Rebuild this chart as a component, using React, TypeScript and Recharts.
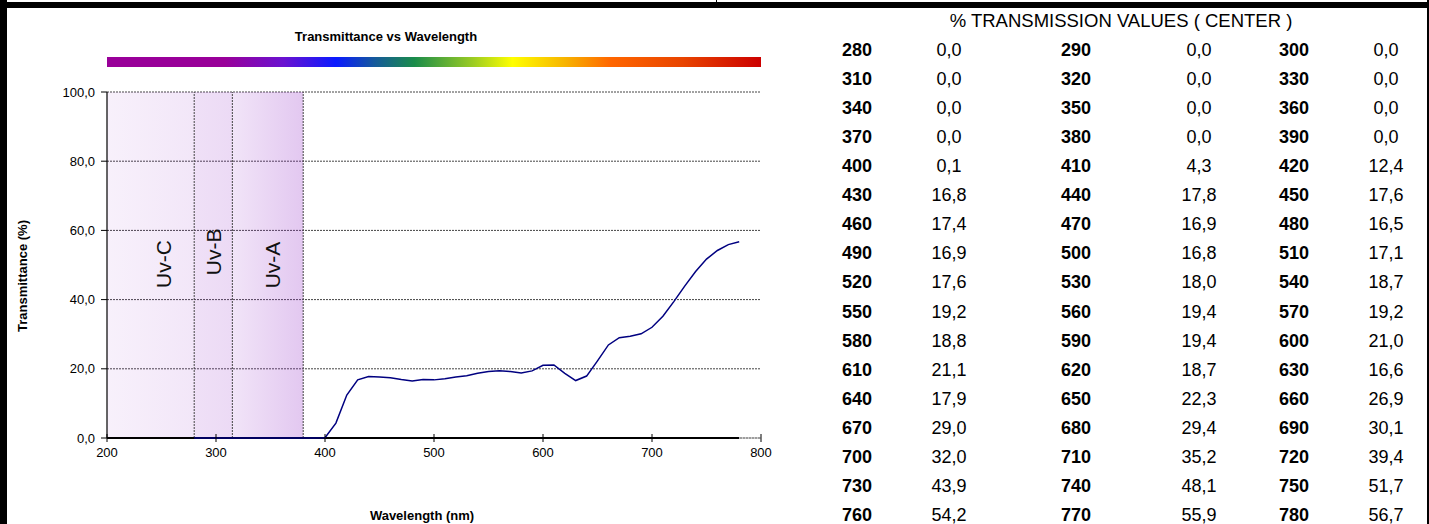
import React from "react";
import {
  LineChart,
  Line,
  XAxis,
  YAxis,
  CartesianGrid,
  ReferenceArea,
  ReferenceLine,
} from "recharts";

const wavelengths = [
  280, 290, 300, 310, 320, 330, 340, 350, 360, 370, 380, 390, 400, 410, 420,
  430, 440, 450, 460, 470, 480, 490, 500, 510, 520, 530, 540, 550, 560, 570,
  580, 590, 600, 610, 620, 630, 640, 650, 660, 670, 680, 690, 700, 710, 720,
  730, 740, 750, 760, 770, 780,
];

const transmission = [
  0.0, 0.0, 0.0, 0.0, 0.0, 0.0, 0.0, 0.0, 0.0, 0.0, 0.0, 0.0, 0.1, 4.3, 12.4,
  16.8, 17.8, 17.6, 17.4, 16.9, 16.5, 16.9, 16.8, 17.1, 17.6, 18.0, 18.7, 19.2,
  19.4, 19.2, 18.8, 19.4, 21.0, 21.1, 18.7, 16.6, 17.9, 22.3, 26.9, 29.0, 29.4,
  30.1, 32.0, 35.2, 39.4, 43.9, 48.1, 51.7, 54.2, 55.9, 56.7,
];

const xTicks = [200, 300, 400, 500, 600, 700, 800];
const yTicks = [0, 20, 40, 60, 80, 100];

const uvBandNames = ["Uv-C", "Uv-B", "Uv-A"];
const uvBandFrom = [200, 280, 315];
const uvBandTo = [280, 315, 380];

const chartTitle = "Transmittance vs Wavelength";
const xTitle = "Wavelength (nm)";
const yTitle = "Transmittance (%)";
const tableTitle = "% TRANSMISSION VALUES ( CENTER )";

// ---- styling (not data) ----
const FONT = "'Liberation Sans', Arial, Helvetica, sans-serif";
const BAND_COLOR = "#9632c8";
const bandOpacity = [
  [0.07, 0.12],
  [0.15, 0.18],
  [0.13, 0.27],
];
const bandLabelPos = [
  { fx: 0.644, fy: 0.497 },
  { fx: 0.5, fy: 0.462 },
  { fx: 0.56, fy: 0.5 },
];
const rainbow =
  "linear-gradient(to right, #990099 0%, #990099 18%, #6a12d0 27%, #0a1aff 35%, #155a9a 41%, #1a8c4a 47%, #9ccc22 56%, #ffff00 62%, #f7b400 70%, #ff6600 77%, #e84400 88%, #cc0000 100%)";

const fmt = (v: number) => v.toFixed(1).replace(".", ",");

const data = wavelengths.map((w, i) => ({ w, t: transmission[i] }));

const XTick = (props: any) => {
  const { x, y, payload } = props;
  return (
    <g>
      <line x1={x} x2={x} y1={y - 4} y2={y + 4} stroke="#000" strokeWidth={1} />
      <text
        x={x}
        y={y + 14}
        textAnchor="middle"
        dominantBaseline="central"
        fontSize={13}
        fontFamily={FONT}
        fill="#000"
      >
        {payload.value}
      </text>
    </g>
  );
};

const makeBandLabel = (name: string, idx: number) => (props: any) => {
  const vb = props.viewBox || {};
  const cx = vb.x + vb.width * bandLabelPos[idx].fx;
  const cy = vb.y + vb.height * bandLabelPos[idx].fy;
  return (
    <text
      x={cx}
      y={cy}
      transform={`rotate(-90 ${cx} ${cy})`}
      textAnchor="middle"
      dominantBaseline="central"
      fontSize={21}
      fontFamily={FONT}
      fill="#111"
    >
      {name}
    </text>
  );
};

const ROW0 = 49.5;
const ROWH = 29.12;
const wlLeft = [842, 1061, 1279];
const valCenter = [949, 1199, 1386];

export default function App() {
  const rows: number[][] = [];
  for (let i = 0; i < wavelengths.length; i += 3) {
    rows.push([i, i + 1, i + 2]);
  }
  const lastW = wavelengths[wavelengths.length - 1];
  return (
    <div
      style={{
        position: "absolute",
        left: 0,
        top: 0,
        width: 1429,
        height: 524,
        background: "#fff",
        fontFamily: FONT,
        overflow: "hidden",
      }}
    >
      {/* frame */}
      <div style={{ position: "absolute", left: 0, top: 0, width: 7, height: 524, background: "#000" }} />
      <div style={{ position: "absolute", left: 0, top: 2, width: 1428, height: 6, background: "#000" }} />
      <div style={{ position: "absolute", left: 716, top: 0, width: 1, height: 3, background: "#000" }} />
      <div style={{ position: "absolute", left: 1427, top: 0, width: 2, height: 524, background: "#000" }} />

      {/* chart title */}
      <div
        style={{
          position: "absolute",
          left: 386,
          top: 36,
          transform: "translate(-50%, -50%)",
          fontSize: 13,
          fontWeight: "bold",
          whiteSpace: "nowrap",
          color: "#000",
        }}
      >
        {chartTitle}
      </div>
      {/* rainbow bar */}
      <div
        style={{
          position: "absolute",
          left: 107,
          top: 57,
          width: 654,
          height: 10,
          background: rainbow,
        }}
      />

      <div style={{ position: "absolute", left: 0, top: 0 }}>
        <LineChart
          width={800}
          height={524}
          data={data}
          margin={{ top: 92, right: 39, bottom: 56, left: 47 }}
        >
          <defs>
            {bandOpacity.map((g, i) => (
              <linearGradient key={i} id={`band${i}`} x1="0" y1="0" x2="1" y2="0">
                <stop offset="0%" stopColor={BAND_COLOR} stopOpacity={g[0]} />
                <stop offset="100%" stopColor={BAND_COLOR} stopOpacity={g[1]} />
              </linearGradient>
            ))}
          </defs>
          <CartesianGrid
            vertical={false}
            stroke="#444"
            strokeDasharray="2 1"
          />
          {uvBandNames.map((n, i) => (
            <ReferenceArea
              key={n}
              x1={uvBandFrom[i]}
              x2={uvBandTo[i]}
              y1={0}
              y2={100}
              fill={`url(#band${i})`}
              fillOpacity={1}
              stroke="none"
              ifOverflow="visible"
              label={makeBandLabel(n, i)}
            />
          ))}
          {uvBandTo.map((b) => (
            <ReferenceLine
              key={b}
              x={b}
              stroke="#444"
              strokeDasharray="2 1"
            />
          ))}
          <XAxis
            type="number"
            dataKey="w"
            domain={[xTicks[0], xTicks[xTicks.length - 1]]}
            ticks={xTicks}
            axisLine={false}
            tickLine={false}
            tickSize={0}
            tickMargin={0}
            height={30}
            tick={<XTick />}
            interval={0}
          />
          <YAxis
            type="number"
            domain={[yTicks[0], yTicks[yTicks.length - 1]]}
            ticks={yTicks}
            width={60}
            axisLine={{ stroke: "#000", strokeWidth: 1.2 }}
            tickLine={{ stroke: "#000" }}
            tickSize={6}
            tickMargin={6}
            tickFormatter={fmt}
            tick={{ fontSize: 13, fill: "#000", fontFamily: FONT }}
            interval={0}
          />
          <ReferenceLine
            segment={[
              { x: xTicks[0], y: 0 },
              { x: lastW, y: 0 },
            ]}
            stroke="#000"
            strokeWidth={2}
          />
          <ReferenceLine
            segment={[
              { x: lastW, y: 0 },
              { x: xTicks[xTicks.length - 1], y: 0 },
            ]}
            stroke="#999"
            strokeWidth={1}
          />
          <Line
            type="linear"
            dataKey="t"
            stroke="#000080"
            strokeWidth={1.5}
            dot={false}
            isAnimationActive={false}
          />
        </LineChart>
      </div>

      {/* axis titles */}
      <div
        style={{
          position: "absolute",
          left: 22,
          top: 276,
          transform: "translate(-50%, -50%) rotate(-90deg)",
          fontSize: 13,
          fontWeight: "bold",
          whiteSpace: "nowrap",
          color: "#000",
        }}
      >
        {yTitle}
      </div>
      <div
        style={{
          position: "absolute",
          left: 422,
          top: 515,
          transform: "translate(-50%, -50%)",
          fontSize: 13,
          fontWeight: "bold",
          whiteSpace: "nowrap",
          color: "#000",
        }}
      >
        {xTitle}
      </div>

      {/* table */}
      <div
        style={{
          position: "absolute",
          left: 1121,
          top: 21,
          transform: "translate(-50%, -50%)",
          fontSize: 18.5,
          whiteSpace: "nowrap",
          color: "#000",
          lineHeight: "20px",
        }}
      >
        {tableTitle}
      </div>
      {rows.map((r, ri) => (
        <React.Fragment key={ri}>
          {r.map((idx, ci) => (
            <React.Fragment key={ci}>
              <div
                style={{
                  position: "absolute",
                  left: wlLeft[ci],
                  top: ROW0 + ri * ROWH - 10,
                  height: 20,
                  lineHeight: "20px",
                  fontSize: 18,
                  fontWeight: "bold",
                  color: "#000",
                  whiteSpace: "nowrap",
                }}
              >
                {wavelengths[idx]}
              </div>
              <div
                style={{
                  position: "absolute",
                  left: valCenter[ci] - 40,
                  width: 80,
                  textAlign: "center",
                  top: ROW0 + ri * ROWH - 10,
                  height: 20,
                  lineHeight: "20px",
                  fontSize: 18,
                  color: "#000",
                  whiteSpace: "nowrap",
                }}
              >
                {fmt(transmission[idx])}
              </div>
            </React.Fragment>
          ))}
        </React.Fragment>
      ))}
    </div>
  );
}
